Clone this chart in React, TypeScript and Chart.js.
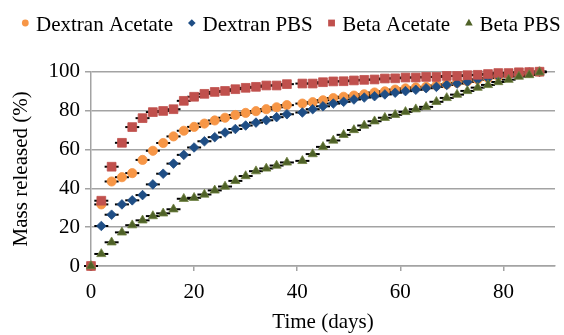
import React, { useEffect, useRef } from 'react';
import { Chart, registerables } from 'chart.js';

Chart.register(...registerables);

const days = [0, 2, 4, 6, 8, 10, 12, 14, 16, 18, 20, 22, 24, 26, 28, 30, 32, 34, 36, 38,
  41, 43, 45, 47, 49, 51, 53, 55, 57, 59, 61, 63, 65, 67, 69, 71, 73, 75, 77, 79, 81, 83, 85, 87];

const dextranAcetate = [0, 31.7, 43.5, 45.7, 47.8, 54.6, 59.3, 63.3, 66.7, 69.6,
  71.6, 73.3, 74.9, 76.3, 77.7, 78.8, 79.7, 80.7, 81.7, 82.8,
  83.6, 84.3, 85.3, 86.4, 87.1, 87.7, 88.4, 89.3, 89.9, 90.8,
  91.4, 91.9, 92.2, 92.9, 93.5, 94.3, 95.1, 96.0, 96.8, 97.6,
  98.4, 99.0, 99.5, 100];

const dextranPBS = [0, 20.6, 26.4, 31.7, 33.8, 36.5, 42.0, 47.5, 52.7, 57.2,
  61.0, 64.2, 66.3, 68.7, 70.5, 72.3, 73.8, 75.0, 76.6, 78.1,
  79.0, 80.7, 82.2, 83.6, 84.5, 85.7, 86.7, 87.4, 88.3, 89.2,
  90.0, 90.7, 91.5, 92.2, 93.2, 93.9, 94.8, 96.0, 96.7, 97.7,
  98.4, 99.1, 99.6, 100];

const betaAcetate = [0, 33.6, 51.1, 63.4, 71.5, 76.1, 79.2, 79.8, 80.7, 85.0,
  87.1, 88.6, 89.6, 90.1, 91.0, 91.7, 92.2, 92.9, 92.9, 93.6,
  93.9, 93.9, 94.6, 95.0, 95.1, 95.5, 95.8, 96.0, 96.5, 96.6,
  97.0, 97.0, 97.3, 97.3, 97.8, 97.8, 98.2, 98.4, 98.8, 99.3,
  99.3, 99.7, 99.8, 100];

const betaPBS = [0, 6.2, 12.2, 17.3, 21.0, 23.5, 25.7, 27.1, 29.2, 34.6,
  35.1, 36.8, 38.9, 40.9, 43.8, 46.3, 48.8, 50.2, 51.7, 53.3,
  54.1, 57.6, 61.3, 64.6, 67.5, 70.0, 72.3, 74.5, 76.3, 77.8,
  79.3, 80.7, 81.9, 84.5, 86.5, 88.2, 90.1, 91.8, 93.2, 94.7,
  95.9, 97.5, 98.3, 99.7];

const seriesNames = ['Dextran Acetate', 'Dextran PBS', 'Beta Acetate', 'Beta PBS'];
const xTickValues = [0, 20, 40, 60, 80];
const yTickValues = [0, 20, 40, 60, 80, 100];

const FONT = "'Liberation Serif', 'Times New Roman', serif";
const FONT_SIZE = 21;
const GRID = '#a3a3a3';

const STYLES = [
  { color: '#F79646', border: '#F79646', pointStyle: 'circle', radius: 4.6 },
  { color: '#1F4E85', border: '#1F4E85', pointStyle: 'rectRot', radius: 4.8 },
  { color: '#C0504D', border: '#C0504D', pointStyle: 'rect', radius: 6.2 },
  { color: '#4F6228', border: '#6E8040', pointStyle: 'triangle', radius: 5.3 },
];

function toPoints(values: number[]) {
  return values.map((v, i) => ({ x: days[i], y: v }));
}

function drawLegendMarker(ctx: CanvasRenderingContext2D, style: string, x: number, y: number, color: string) {
  ctx.save();
  ctx.fillStyle = color;
  ctx.beginPath();
  if (style === 'circle') {
    ctx.arc(x, y, 3.4, 0, Math.PI * 2);
  } else if (style === 'rectRot') {
    ctx.moveTo(x, y - 3.8);
    ctx.lineTo(x + 3.8, y);
    ctx.lineTo(x, y + 3.8);
    ctx.lineTo(x - 3.8, y);
    ctx.closePath();
  } else if (style === 'rect') {
    ctx.rect(x - 3.4, y - 3.4, 6.8, 6.8);
  } else {
    ctx.moveTo(x, y - 4.2);
    ctx.lineTo(x + 3.8, y + 2.6);
    ctx.lineTo(x - 3.8, y + 2.6);
    ctx.closePath();
  }
  ctx.fill();
  ctx.restore();
}

const legendPlugin = {
  id: 'customLegend',
  afterDraw(chart: any) {
    const ctx: CanvasRenderingContext2D = chart.ctx;
    ctx.save();
    ctx.font = `${FONT_SIZE}px ${FONT}`;
    ctx.textBaseline = 'middle';
    ctx.textAlign = 'left';
    ctx.fillStyle = '#000';
    let x = 25.3;
    const markerY = 23;
    const textY = 25;
    seriesNames.forEach((name, i) => {
      drawLegendMarker(ctx, STYLES[i].pointStyle, x, markerY, STYLES[i].color);
      const tx = x + 10.7;
      ctx.fillText(name, tx, textY);
      x = tx + ctx.measureText(name).width + 18.8;
    });
    ctx.restore();
  },
};

export default function App() {
  const ref = useRef<HTMLCanvasElement | null>(null);

  useEffect(() => {
    if (!ref.current) return;
    const allSeries = [dextranAcetate, dextranPBS, betaAcetate, betaPBS];
    const markerSets = allSeries.map((vals, i) => ({
      label: seriesNames[i],
      data: toPoints(vals),
      showLine: false,
      clip: false,
      pointStyle: STYLES[i].pointStyle,
      pointRadius: STYLES[i].radius,
      pointHoverRadius: STYLES[i].radius,
      pointBackgroundColor: STYLES[i].color,
      pointBorderColor: STYLES[i].border,
      pointBorderWidth: 0.8,
      backgroundColor: STYLES[i].color,
      borderColor: STYLES[i].border,
      order: 4 - i,
    }));
    const dashSets = allSeries.map((vals, i) => ({
      label: 'err' + i,
      data: toPoints(vals),
      showLine: false,
      clip: false,
      pointStyle: 'line',
      pointRadius: 7,
      pointHoverRadius: 7,
      pointBorderColor: '#000',
      pointBorderWidth: 2,
      borderColor: '#000',
      backgroundColor: '#000',
      order: 20 - i,
    }));

    const chart = new Chart(ref.current, {
      type: 'scatter',
      data: { datasets: [...markerSets, ...dashSets] as any },
      plugins: [legendPlugin],
      options: {
        animation: false,
        responsive: false,
        layout: { padding: { left: 8, right: 5, top: 71.7, bottom: 0 } },
        plugins: {
          tooltip: { enabled: false },
          legend: { display: false },
          title: { display: false },
        },
        scales: {
          x: {
            type: 'linear',
            min: 0,
            max: 90,
            afterBuildTicks: (s: any) => {
              s.ticks = xTickValues.map((v) => ({ value: v }));
            },
            afterFit: (s: any) => { s.height = 69; },
            ticks: { color: '#000', font: { family: FONT, size: FONT_SIZE }, padding: 9, maxRotation: 0 },
            grid: { drawOnChartArea: false, drawTicks: true, tickLength: 5, color: GRID, lineWidth: 1.5 },
            border: { display: true, color: GRID, width: 1.5 },
            title: {
              display: true,
              text: 'Time (days)',
              color: '#000',
              font: { family: FONT, size: FONT_SIZE },
              padding: { top: 0, bottom: 0 },
            },
          },
          y: {
            type: 'linear',
            min: 0,
            max: 100,
            afterBuildTicks: (s: any) => {
              s.ticks = yTickValues.map((v) => ({ value: v }));
            },
            afterFit: (s: any) => { s.width = 83; },
            ticks: { color: '#000', font: { family: FONT, size: FONT_SIZE }, padding: 5 },
            grid: { drawTicks: true, tickLength: 6, color: GRID, lineWidth: 1.5 },
            border: { display: true, color: GRID, width: 1.5 },
            title: {
              display: true,
              text: 'Mass released (%)',
              color: '#000',
              font: { family: FONT, size: FONT_SIZE },
              padding: { top: 1, bottom: 0 },
            },
          },
        },
      } as any,
    });
    return () => chart.destroy();
  }, []);

  return (
    <div style={{ position: 'absolute', left: 0, top: 0, width: 564, height: 335, background: '#fff' }}>
      <canvas ref={ref} width={564} height={335} style={{ width: 564, height: 335 }} />
    </div>
  );
}
